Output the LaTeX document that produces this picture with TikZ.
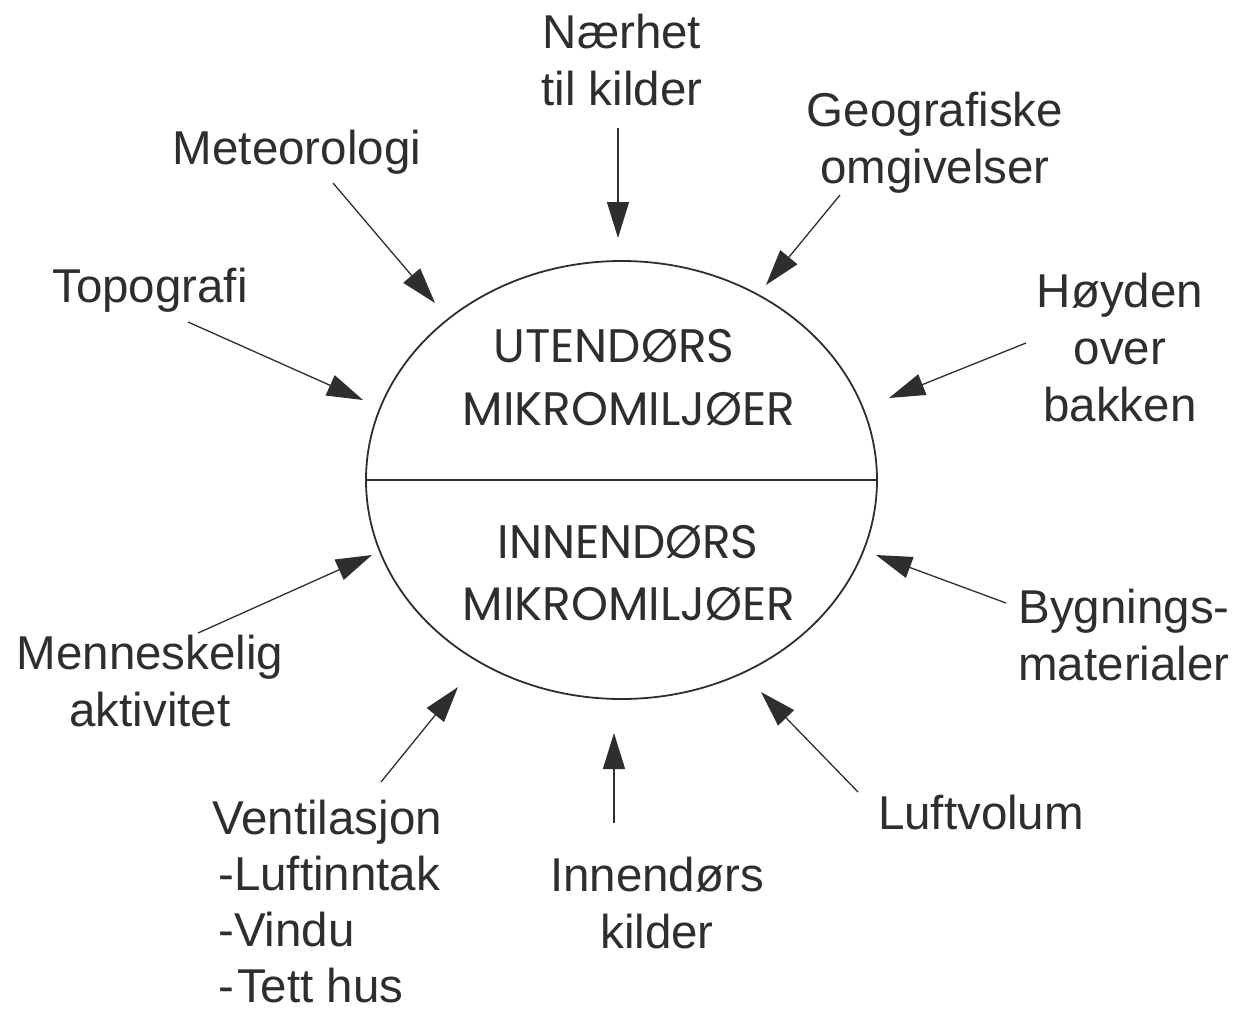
\documentclass[tikz,border=0pt]{standalone}
\usepackage{fontspec}
\setmainfont{Liberation Sans}
\newfontfamily\geofont{Poppins}
\usetikzlibrary{arrows.meta,shapes.geometric}
\definecolor{ink}{HTML}{2E2E2E}

\begin{document}
\begin{tikzpicture}[x=1pt,y=-1pt,
  lbl/.style={font=\fontsize{47.5}{57}\selectfont, text=ink, align=center, inner sep=0pt},
  core/.style={font=\geofont\fontsize{47}{56}\selectfont, text=ink, inner sep=0pt, anchor=base},
  feed/.style={draw=ink, line width=1.3pt, -{Triangle[length=36pt,width=22pt]}}]
  \useasboundingbox (0,0) rectangle (1245,1012);

  % central ellipse split into outdoor / indoor halves
  \node[draw=ink, line width=1.8pt, ellipse, minimum width=511pt, minimum height=438pt, inner sep=0pt]
    (env) at (621.5,480) {};
  \draw[ink, line width=1.8pt] (env.west) -- (env.east);

  \node[core] (ute1) at (614,362) {UTENDØRS};
  \node[core] (ute2) at (629,425) {MIKROMILJØER};
  \node[core] (inn1) at (628,558) {INNENDØRS};
  \node[core] (inn2) at (629,620) {MIKROMILJØER};

  % influencing factors
  \node[lbl] (naer) at (622,60) {Nærhet\\til kilder};
  \node[lbl] (geo)  at (935,143) {Geografiske\\omgivelser};
  \node[lbl] (met)  at (297,152) {Meteorologi};
  \node[lbl] (topo) at (150,290) {Topografi};
  \node[lbl] (hoyd) at (1120,348) {Høyden\\over\\bakken};
  \node[lbl] (menn) at (150,681) {Menneskelig\\aktivitet};
  \node[lbl] (bygn) at (1124,635) {Bygnings-\\materialer};
  \node[lbl, font=\fontsize{47.5}{56}\selectfont, align=left, anchor=west] (vent) at (212,902)
    {Ventilasjon\\\hspace{6pt}-Luftinntak\\\hspace{6pt}-Vindu\\\hspace{6pt}-\kern3pt Tett hus};
  \node[lbl] (kild) at (657,903) {Innendørs\\kilder};
  \node[lbl] (luft) at (981,813) {Luftvolum};

  % arrow end points
  \coordinate (naerS) at (618,128);  \coordinate (naerT) at (618,238);
  \coordinate (geoS)  at (840,195);  \coordinate (geoT)  at (766,285);
  \coordinate (metS)  at (333,183);  \coordinate (metT)  at (435,303);
  \coordinate (topoS) at (188,322);  \coordinate (topoT) at (363,400);
  \coordinate (hoydS) at (1026,343); \coordinate (hoydT) at (889,398);
  \coordinate (mennS) at (198,633);  \coordinate (mennT) at (372,555);
  \coordinate (bygnS) at (1006,603); \coordinate (bygnT) at (876,555);
  \coordinate (ventS) at (381,782);  \coordinate (ventT) at (458,687);
  \coordinate (kildS) at (614,823);  \coordinate (kildT) at (614,733);
  \coordinate (luftS) at (858,792);  \coordinate (luftT) at (761,692);

  \foreach \f in {naer,geo,met,topo,hoyd,menn,bygn,vent,kild,luft}
    \draw[feed] (\f S) -- (\f T);
\end{tikzpicture}
\end{document}
